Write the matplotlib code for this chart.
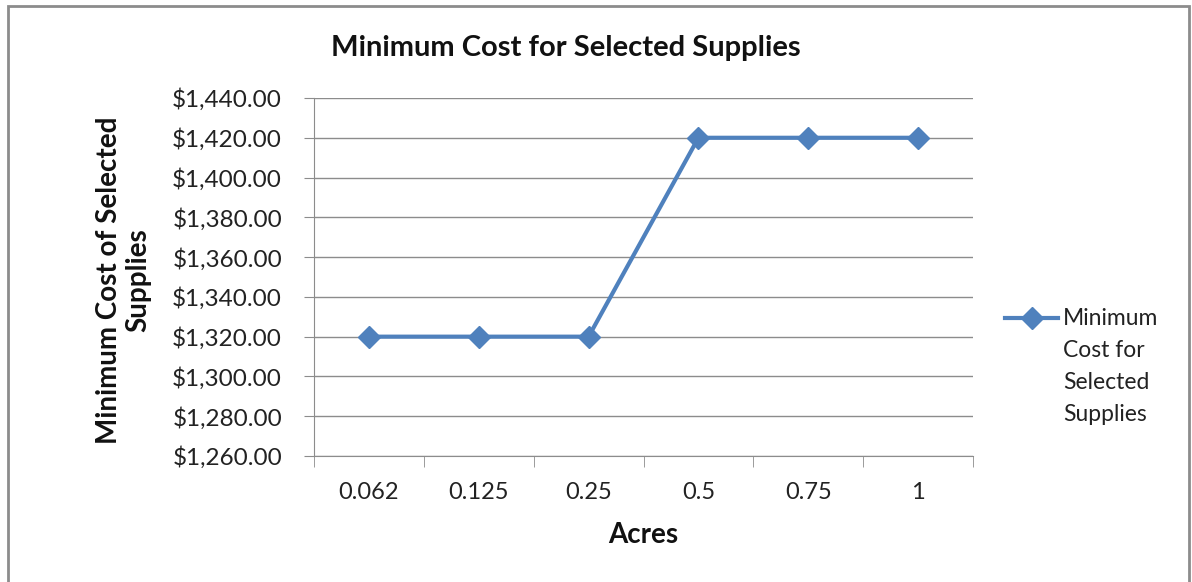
import matplotlib.pyplot as plt
from matplotlib.lines import Line2D
from matplotlib.ticker import FuncFormatter, FixedLocator

acres = ["0.062", "0.125", "0.25", "0.5", "0.75", "1"]
min_cost = [1320, 1320, 1320, 1420, 1420, 1420]
series_name = "Minimum\nCost for\nSelected\nSupplies"

plt.rcParams['font.family'] = ['Lato', 'DejaVu Sans']

W, H = 1192, 582
fig = plt.figure(figsize=(W / 100, H / 100), dpi=100)
ax = fig.add_axes([314 / W, 1 - 456 / H, 659 / W, 358 / H])

x = list(range(len(acres)))
ax.plot(x, min_cost, color='#4F81BD', lw=3, marker='D', markersize=11)

ax.set_xlim(-0.5, len(acres) - 0.5)
ax.set_ylim(1260, 1440)
ax.set_yticks(range(1260, 1441, 20))
ax.yaxis.set_major_formatter(FuncFormatter(lambda v, p: f"${v:,.2f}"))
ax.set_xticks(x)
ax.set_xticklabels(acres)
ax.xaxis.set_minor_locator(FixedLocator([i - 0.5 for i in range(len(acres) + 1)]))
ax.tick_params(axis='x', which='major', length=0, pad=19, labelsize=17, labelcolor='#222222')
ax.tick_params(axis='x', which='minor', length=8, color='#8c8c8c', direction='out')
ax.tick_params(axis='y', length=7, color='#8c8c8c', labelsize=17.5, pad=16, labelcolor='#222222')

ax.grid(axis='y', color='#8c8c8c', lw=1)
ax.set_axisbelow(True)
for s in ['top', 'right']:
    ax.spines[s].set_visible(False)
for s in ['left', 'bottom']:
    ax.spines[s].set_color('#8c8c8c')

fig.text(566 / W, 1 - 48 / H, "Minimum Cost for Selected Supplies", fontsize=21,
         fontweight='bold', ha='center', va='center', color='#111111')
fig.text(643 / W, 1 - 535 / H, "Acres", fontsize=20, fontweight='bold',
         ha='center', va='center', color='#111111')
fig.text(124 / W, 1 - 280 / H, "Minimum Cost of Selected\nSupplies", fontsize=20,
         fontweight='bold', ha='center', va='center', rotation=90,
         linespacing=1.15, color='#111111')

# legend drawn by hand so the marker sits on the first text line
ly = 1 - 318 / H
fig.add_artist(Line2D([1005 / W, 1058 / W], [ly, ly], transform=fig.transFigure,
                      color='#4F81BD', lw=3))
fig.add_artist(Line2D([1032 / W], [ly], transform=fig.transFigure, color='#4F81BD',
                      marker='D', markersize=11))
fig.text(1063 / W, ly + 10 / H, series_name, fontsize=16.5, ha='left', va='top',
         linespacing=1.65, color='#222222')

fig.add_artist(plt.Rectangle((8 / W, -0.1), 1181 / W, 1.1 - 6 / H,
                             transform=fig.transFigure, fill=False,
                             edgecolor='#8c8c8c', lw=2))

fig.savefig("out.png", dpi=100)
